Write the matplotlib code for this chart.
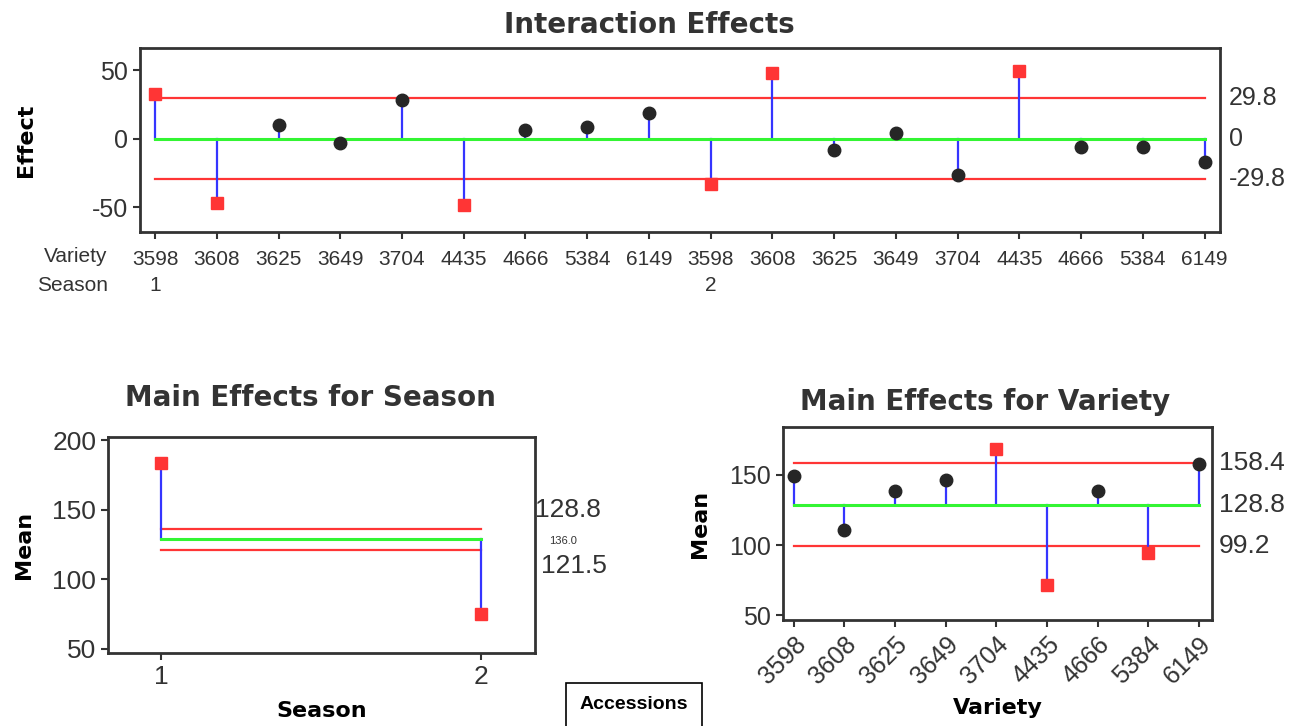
import matplotlib
matplotlib.use("Agg")
from matplotlib import pyplot as plt

# data
varieties = ['3598', '3608', '3625', '3649', '3704', '4435', '4666', '5384', '6149']
seasons = ['1', '2']
interaction_s1 = [32.8, -46.8, 10.2, -2.9, 28.6, -48.5, 6.6, 8.3, 19.2]
interaction_s2 = [-32.9, 48.0, -8.2, 4.5, -26.7, 49.6, -6.4, -6.2, -17.3]
interaction_limit = 29.8

grand_mean = 128.8
season_means = [183.8, 75.2]
season_upper = 136.0
season_lower = 121.5

variety_means = [149.3, 110.7, 138.6, 145.9, 168.4, 71.4, 138.6, 94.3, 157.8]
variety_upper = 158.4
variety_lower = 99.2

RED = '#ff3535'
GREEN = '#33f533'
BLUE = '#3535ff'
DOT = '#262626'
EDGE = '#333333'
TICKFONT = ['Liberation Sans', 'DejaVu Sans']

plt.rcParams['font.family'] = 'DejaVu Sans'
plt.rcParams['text.color'] = '#333333'
plt.rcParams['axes.unicode_minus'] = False


def style_axes(ax):
    for s in ax.spines.values():
        s.set_color(EDGE)
        s.set_linewidth(2)
    ax.tick_params(direction='out', length=5, width=1.5, color=EDGE,
                   labelcolor='#333333')
    for lab in ax.get_xticklabels() + ax.get_yticklabels():
        lab.set_family(TICKFONT)


def anom_points(ax, xs, vals, center, lo, hi):
    for x, v in zip(xs, vals):
        ax.plot([x, x], [center, v], color=BLUE, lw=1.6, zorder=2)
        if v > hi or v < lo:
            ax.plot(x, v, 's', color=RED, ms=9, zorder=4)
        else:
            ax.plot(x, v, 'o', color=DOT, ms=9, zorder=4)


fig = plt.figure(figsize=(13.02, 7.26), dpi=100)

# ---- Interaction effects
ax1 = fig.add_axes([0.1075, 0.68, 0.8295, 0.254])
effects = interaction_s1 + interaction_s2
xs = list(range(len(effects)))
ax1.plot([xs[0], xs[-1]], [interaction_limit, interaction_limit], color=RED, lw=1.6, zorder=1)
ax1.plot([xs[0], xs[-1]], [-interaction_limit, -interaction_limit], color=RED, lw=1.6, zorder=1)
ax1.plot([xs[0], xs[-1]], [0, 0], color=GREEN, lw=2.2, zorder=3)
anom_points(ax1, xs, effects, 0, -interaction_limit, interaction_limit)
ax1.set_xlim(-0.245, len(effects) - 1 + 0.25)
ax1.set_ylim(-68.5, 66.5)
ax1.set_yticks([-50, 0, 50])
ax1.set_xticks(xs)
ax1.set_xticklabels(varieties * len(seasons), fontsize=15)
ax1.tick_params(axis='x', pad=8)
ax1.tick_params(axis='y', labelsize=18)
style_axes(ax1)
t1 = ax1.set_title('Interaction Effects', fontsize=20, fontweight='bold', pad=11)
t1.set_x(0.472)
ax1.set_ylabel('Effect', fontsize=16, fontweight='bold', labelpad=40)
ytr = ax1.get_yaxis_transform()
for val, txt in [(interaction_limit, '29.8'), (0, '0'), (-interaction_limit, '-29.8')]:
    ax1.text(1.008, val, txt, transform=ytr, va='center', ha='left',
             fontsize=18, family=TICKFONT)
xtr = ax1.get_xaxis_transform()
for i, s in enumerate(seasons):
    ax1.text(i * len(varieties), -0.235, s, transform=xtr, ha='center', va='top',
             fontsize=15, family=TICKFONT)
ax1.text(-0.03, -0.08, 'Variety', transform=ax1.transAxes, ha='right', va='top',
         fontsize=15, family=TICKFONT)
ax1.text(-0.03, -0.235, 'Season', transform=ax1.transAxes, ha='right', va='top',
         fontsize=15, family=TICKFONT)

# ---- Main effects for season
ax2 = fig.add_axes([0.083, 0.1006, 0.328, 0.2974])
sx = [1, 2]
ax2.plot(sx, [season_upper] * 2, color=RED, lw=1.6, zorder=1)
ax2.plot(sx, [season_lower] * 2, color=RED, lw=1.6, zorder=1)
ax2.plot(sx, [grand_mean] * 2, color=GREEN, lw=2.2, zorder=3)
anom_points(ax2, sx, season_means, grand_mean, season_lower, season_upper)
ax2.set_xlim(0.833, 2.17)
ax2.set_ylim(47.1, 202.4)
ax2.set_yticks([50, 100, 150, 200])
ax2.set_xticks(sx)
ax2.set_xticklabels(seasons)
ax2.tick_params(labelsize=19)
style_axes(ax2)
t2 = ax2.set_title('Main Effects for Season', fontsize=20, fontweight='bold', pad=22)
t2.set_x(0.473)
ax2.set_xlabel('Season', fontsize=16, fontweight='bold', labelpad=9)
ax2.set_ylabel('Mean', fontsize=16, fontweight='bold', labelpad=13)
ax2.text(1.0, 0.662, f'{grand_mean:.1f}', transform=ax2.transAxes, va='center',
         ha='left', fontsize=19, family=TICKFONT)
ax2.text(1.033, 0.519, f'{season_upper:.1f}', transform=ax2.transAxes, va='center',
         ha='left', fontsize=8, family=TICKFONT)
ax2.text(1.014, 0.403, f'{season_lower:.1f}', transform=ax2.transAxes, va='center',
         ha='left', fontsize=19, family=TICKFONT)

# ---- Main effects for variety
ax3 = fig.add_axes([0.6015, 0.146, 0.3295, 0.266])
vx = list(range(len(varieties)))
ax3.plot([vx[0], vx[-1]], [variety_upper] * 2, color=RED, lw=1.6, zorder=1)
ax3.plot([vx[0], vx[-1]], [variety_lower] * 2, color=RED, lw=1.6, zorder=1)
ax3.plot([vx[0], vx[-1]], [grand_mean] * 2, color=GREEN, lw=2.2, zorder=3)
anom_points(ax3, vx, variety_means, grand_mean, variety_lower, variety_upper)
ax3.set_xlim(-0.21, len(varieties) - 1 + 0.26)
ax3.set_ylim(46.7, 184)
ax3.set_yticks([50, 100, 150])
ax3.set_xticks(vx)
ax3.set_xticklabels(varieties, rotation=45, ha='right', rotation_mode='anchor')
ax3.tick_params(labelsize=18)
style_axes(ax3)
t3 = ax3.set_title('Main Effects for Variety', fontsize=20, fontweight='bold', pad=12)
t3.set_x(0.471)
ax3.set_xlabel('Variety', fontsize=16, fontweight='bold', labelpad=7)
ax3.set_ylabel('Mean', fontsize=16, fontweight='bold', labelpad=14)
ytr3 = ax3.get_yaxis_transform()
for val in [variety_upper, grand_mean, variety_lower]:
    ax3.text(1.015, val, f'{val:.1f}', transform=ytr3, va='center', ha='left',
             fontsize=19, family=TICKFONT)

# boxed label
fig.text(0.487, 0.029, 'Accessions', ha='center', va='center', fontsize=14,
         fontweight='bold', color='black', family=['Liberation Sans', 'DejaVu Sans'],
         bbox=dict(boxstyle='square,pad=0.7', fc='white', ec='black', lw=1.2))

fig.savefig('out.png', dpi=100)
